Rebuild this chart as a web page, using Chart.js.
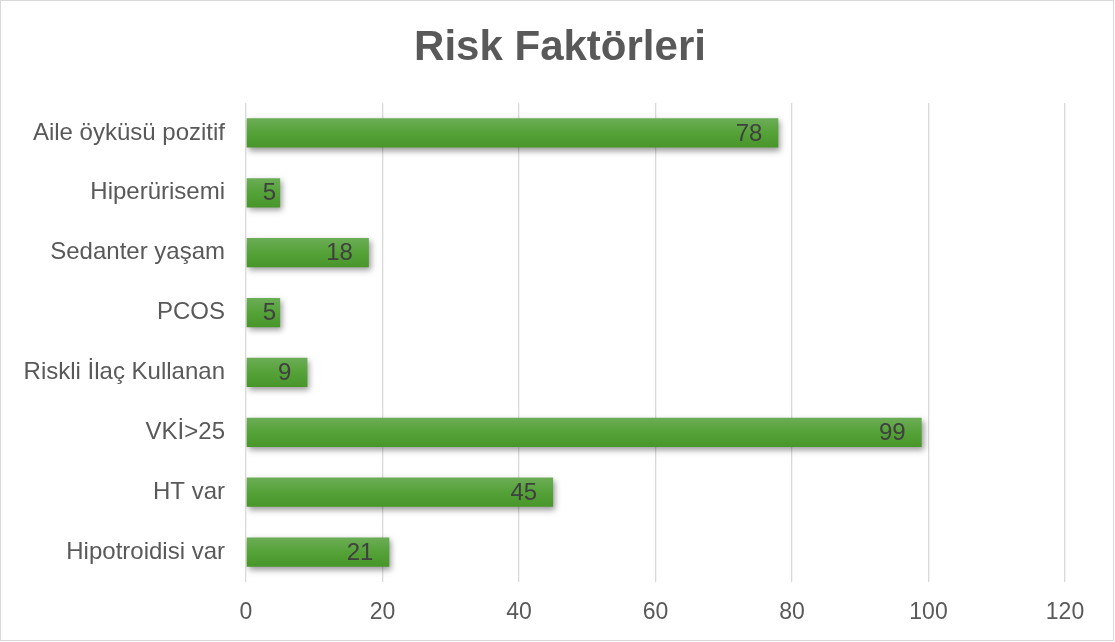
<!DOCTYPE html>
<html>
<head>
<meta charset="utf-8">
<script src="https://cdn.jsdelivr.net/npm/chart.js@4/dist/chart.umd.min.js"></script>
<style>
  html, body { margin: 0; padding: 0; background: #ffffff; }
  #wrap { width: 1115px; height: 642px; position: relative; }
</style>
</head>
<body>
<div id="wrap"><canvas id="c" width="1115" height="642"></canvas></div>
<script>
const chartTitle = 'Risk Faktörleri';
const categories = ['Aile öyküsü pozitif', 'Hiperürisemi', 'Sedanter yaşam', 'PCOS', 'Riskli İlaç Kullanan', 'VKİ>25', 'HT var', 'Hipotroidisi var'];
const values = [78, 5, 18, 5, 9, 99, 45, 21];
const xTickMin = 0;
const xTickMax = 120;
const xTickStep = 20;

const FONT = '"Liberation Sans", Arial, Helvetica, sans-serif';
const BAR_PCT = 0.49;

function barFill(context) {
  const chart = context.chart;
  const area = chart.chartArea;
  const yScale = chart.scales.y;
  if (!area || !yScale) return '#56a035';
  const yc = yScale.getPixelForValue(context.dataIndex);
  const half = (area.bottom - area.top) / categories.length * BAR_PCT / 2;
  const g = chart.ctx.createLinearGradient(0, yc - half, 0, yc + half);
  g.addColorStop(0, '#6cad57');
  g.addColorStop(0.5, '#55a238');
  g.addColorStop(1, '#48962a');
  return g;
}

const frame = {
  id: 'frame',
  beforeDraw(chart) {
    const c = chart.ctx;
    c.save();
    c.fillStyle = '#ffffff';
    c.fillRect(0, 0, chart.width, chart.height);
    c.strokeStyle = '#d9d9d9';
    c.lineWidth = 1;
    c.strokeRect(0.5, 0.5, chart.width - 2, chart.height - 2);
    c.restore();
  },
  afterDraw(chart) {
    const c = chart.ctx;
    c.save();
    c.font = 'bold 42px ' + FONT;
    c.fillStyle = '#595959';
    c.textAlign = 'center';
    c.textBaseline = 'alphabetic';
    c.fillText(chartTitle, 560, 60);
    c.restore();
  }
};

const shadow = {
  id: 'shadow',
  beforeDatasetsDraw(chart) {
    const c = chart.ctx;
    c.save();
    c.shadowColor = 'rgba(0,0,0,0.4)';
    c.shadowBlur = 6;
    c.shadowOffsetX = 2;
    c.shadowOffsetY = 3;
  },
  afterDatasetsDraw(chart) {
    chart.ctx.restore();
  }
};

const labels = {
  id: 'valueLabels',
  afterDatasetsDraw(chart) {
    const c = chart.ctx;
    const meta = chart.getDatasetMeta(0);
    c.save();
    c.font = '24px ' + FONT;
    c.fillStyle = '#404040';
    c.textAlign = 'right';
    c.textBaseline = 'middle';
    meta.data.forEach((el, i) => {
      const txt = String(chart.data.datasets[0].data[i]);
      const w = c.measureText(txt).width;
      const x = Math.max(el.x - 16, el.base + w + 16);
      c.fillText(txt, x, el.y + 1);
    });
    c.restore();
  }
};

new Chart(document.getElementById('c'), {
  type: 'bar',
  data: {
    labels: categories,
    datasets: [{
      data: values,
      backgroundColor: barFill,
      borderWidth: 0,
      barPercentage: BAR_PCT,
      categoryPercentage: 1.0
    }]
  },
  options: {
    indexAxis: 'y',
    responsive: false,
    animation: false,
    devicePixelRatio: 1,
    layout: { padding: { left: 0, right: 50, top: 103, bottom: 0 } },
    plugins: {
      legend: { display: false },
      tooltip: { enabled: false },
      title: { display: false }
    },
    scales: {
      x: {
        min: xTickMin,
        max: xTickMax,
        ticks: {
          stepSize: xTickStep,
          color: '#595959',
          font: { family: FONT, size: 23 },
          padding: 17
        },
        grid: { color: '#d9d9d9', lineWidth: 1.3, drawTicks: false },
        border: { display: false },
        afterFit(scale) { scale.height = 60; }
      },
      y: {
        ticks: {
          color: '#595959',
          font: { family: FONT, size: 24 },
          padding: 21
        },
        grid: { display: false, drawTicks: false },
        border: { display: false },
        afterFit(scale) { scale.width = 246; }
      }
    }
  },
  plugins: [frame, shadow, labels]
});
</script>
</body>
</html>
